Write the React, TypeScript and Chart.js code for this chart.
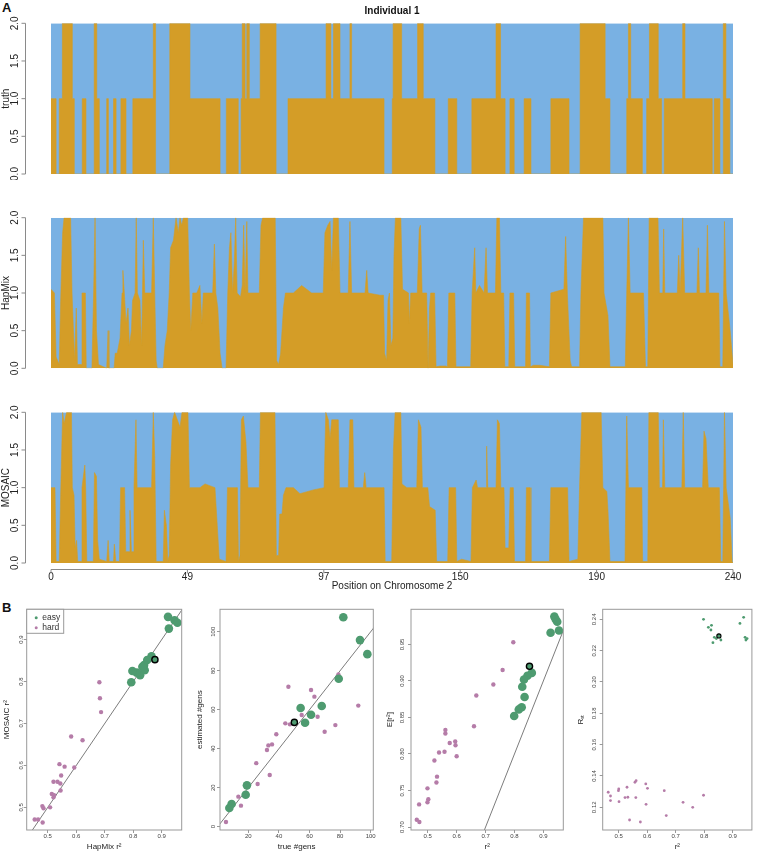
import React, { useEffect, useRef } from 'react';
import { Chart, registerables } from 'chart.js';

Chart.register(...registerables);
Chart.defaults.font.family = "'Liberation Sans', Arial, Helvetica, sans-serif";
Chart.defaults.color = '#222';

const BLUE = '#79B1E3';
const ORANGE = '#D49D27';
const GREEN = '#4E9B70';
const PURPLE = '#B57CA8';
const AXIS = '#8a8a8a';
const TEXT = '#222';

// ---------------- Panel A data ----------------
const positionTicks = [0, 48, 96, 144, 192, 240];
const positionTickLabels = ['0', '49', '97', '150', '190', '240'];
const ancestryTicks = [0, 0.5, 1, 1.5, 2];

const truthPos = [0,1.8,2.9,4.0,7.5,8.2,11.0,12.3,15.2,16.1,17.0,19.6,20.2,22.0,22.9,24.6,26.4,28.8,36.0,36.8,41.8,48.9,59.5,61.7,65.9,66.9,67.3,68.3,68.9,69.8,73.6,79.2,83.4,96.8,98.5,99.4,101.7,105.2,105.8,117.2,120.1,120.4,123.4,129.0,131.0,135.1,139.8,142.8,148.1,156.6,158.2,159.8,161.5,163.0,166.5,168.9,175.9,182.3,186.2,195.0,196.7,202.6,203.2,204.0,208.1,209.6,210.6,213.7,214.9,215.8,222.3,223.1,232.7,233.4,235.4,236.6,237.5,238.9,240];
const truthVal = [1,0,1,2,1,0,1,0,2,1,0,1,0,1,0,1,0,1,2,0,2,1,0,1,0,1,2,1,2,1,2,0,1,2,1,2,1,2,1,0,1,2,1,2,1,0,1,0,1,2,1,0,1,0,1,0,1,0,2,1,0,1,2,1,0,1,2,1,0,1,2,1,0,1,0,2,1,0,0];

const hapmixPos = [0,1.2,1.8,2.9,3.4,4.1,4.6,6.9,7.4,7.9,8.3,8.9,9.3,10.7,10.9,12.1,12.4,14.4,15.0,15.5,16.0,16.7,19.6,20.1,20.4,22.2,22.6,23.3,24.3,25.0,25.3,25.8,26.4,27.1,27.6,28.3,28.7,29.6,30.0,30.4,31.3,31.9,32.5,33.0,35.4,36.0,36.5,37.0,37.4,39.5,40.1,40.9,41.6,42.1,43.1,44.0,44.8,45.4,46.0,46.6,48.1,48.7,49.2,49.9,51.3,52.4,53.1,53.6,56.9,57.5,58.0,58.7,59.5,60.2,61.6,62.2,62.8,63.3,63.9,64.5,65.0,65.5,66.7,67.3,67.8,68.3,68.9,69.3,73.3,73.9,74.5,78.9,79.4,80.1,80.8,81.8,82.5,85.3,88.2,91.7,95.8,96.4,97.4,98.2,98.8,99.4,101.1,101.7,104.6,105.2,105.8,110.5,111.1,111.6,115.8,
  117.0,117.4,118.1,118.6,119.1,119.6,120.3,120.7,121.2,123.1,123.7,125.8,126.1,126.6,128.9,129.6,130.0,130.6,132.2,132.7,133.2,133.6,135.0,135.5,136.9,138.8,139.5,140.0,142.1,142.5,147.7,148.2,149.1,149.5,150.8,152.4,153.1,153.6,156.4,156.9,157.8,158.3,159.3,159.7,161.1,161.5,162.8,163.2,167.0,167.3,168.4,168.7,169.8,171.9,175.4,175.9,180.5,181.1,181.7,182.7,183.2,186.0,186.5,187.4,194.2,194.6,196.0,196.7,202.1,202.6,203.2,203.8,208.5,209.2,210.0,210.5,213.6,214.1,215.3,215.6,216.0,220.4,220.9,221.4,222.3,223.0,227.3,227.8,228.2,230.5,231.0,231.5,235.0,235.4,236.4,237.0,237.6,239.0,240];
const hapmixVal = [1.05,1.0,0.15,0.05,0.9,1.8,2.0,2.0,1.0,0.5,0.1,0.8,0.05,0.05,1.0,1.0,0.0,0.0,1.0,2.0,0.5,0.05,0.0,0.5,0.0,0.0,0.2,0.2,0.4,1.0,1.3,1.0,0.6,0.8,0.3,0.5,0.9,1.0,2.0,1.0,0.9,0.3,1.7,1.0,1.0,2.0,1.0,0.1,0.0,0.0,0.3,0.5,1.0,1.6,1.7,2.0,1.8,2.0,1.9,2.0,2.0,1.0,0.5,1.0,1.0,1.1,0.6,1.0,1.0,1.65,1.0,0.8,0.2,0.0,0.0,1.0,1.6,1.8,1.0,1.4,2.0,1.0,0.95,1.1,1.9,1.0,1.95,1.0,1.0,1.9,2.0,2.0,0.1,0.05,0.2,0.8,1.0,1.0,1.1,1.0,1.0,1.8,1.9,1.95,1.3,2.0,2.0,1.0,1.0,1.95,1.0,1.0,1.3,1.0,0.97,
  0.97,0.2,0.1,0.9,1.0,0.3,0.4,1.5,2.0,2.0,1.05,1.0,0.6,1.0,1.0,1.85,1.9,1.0,1.0,0.0,0.8,1.0,1.0,0.02,0.03,0.03,0.02,1.0,1.0,0.02,0.02,1.0,1.6,1.0,1.1,1.0,1.6,1.0,1.0,2.0,2.0,1.0,1.0,0.02,0.02,1.0,1.0,0.02,0.02,1.0,1.0,0.02,0.04,0.04,0.02,1.0,1.05,1.75,1.0,0.1,0.02,0.02,1.0,2.0,2.0,1.0,0.7,0.02,0.02,1.0,2.0,1.0,1.0,0.02,0.02,2.0,2.0,1.0,1.0,1.85,1.0,1.0,1.5,1.0,2.0,1.0,1.0,1.6,1.0,1.0,1.9,1.0,1.0,0.02,0.02,1.95,1.0,0.5,0.05];

const mosaicPos = [0,1.4,1.8,2.9,3.4,4.1,4.6,5.5,7.2,7.5,8.1,8.5,9.0,9.4,10.7,10.9,11.9,12.2,12.6,14.9,15.3,16.0,16.4,17.0,19.6,20.1,20.5,22.0,22.3,22.8,24.1,24.5,25.9,26.3,27.5,27.8,28.3,28.9,29.2,29.9,30.3,35.4,36.0,36.5,37.0,39.5,39.9,40.6,41.1,41.6,42.1,42.8,43.5,45.4,46.1,48.2,48.7,52.4,54.2,57.7,58.5,59.2,61.6,62.1,65.6,66.0,66.5,67.0,67.7,68.6,69.3,73.3,73.7,78.8,79.3,80.1,80.5,81.3,81.8,82.7,85.3,87.6,92.3,96.1,96.7,97.6,98.2,98.8,101.1,101.5,104.6,105.2,106.2,106.6,109.9,110.4,110.9,115.8,
  116.4,117.2,117.6,119.9,120.5,121.1,123.1,123.5,125.2,128.7,129.3,130.2,130.7,132.6,133.2,135.2,135.7,139.6,140.1,142.4,142.8,144.5,147.8,148.3,149.6,150.1,153.1,153.3,153.7,156.6,157.1,157.8,158.3,159.4,159.8,161.1,161.6,162.7,163.1,167.0,167.3,168.6,168.9,175.4,175.9,181.8,182.3,185.4,186.0,186.8,193.6,194.2,195.6,196.0,196.7,202.0,202.6,203.2,207.9,208.2,210.0,210.4,213.7,214.1,215.2,215.5,216.0,222.0,222.5,223.0,229.3,229.8,230.5,231.3,235.2,235.7,236.4,237.0,237.6,239.0,239.7,240];
const mosaicVal = [1.0,1.0,0.02,0.02,0.9,2.0,1.85,2.0,2.0,1.0,0.9,0.2,0.3,0.02,0.02,1.0,1.3,1.0,0.02,0.02,1.2,1.15,0.3,0.05,0.02,0.3,0.02,0.02,0.25,0.02,0.02,1.0,1.0,0.15,0.15,0.7,0.15,0.15,1.0,1.9,1.0,1.0,2.0,1.4,0.02,0.02,0.7,0.5,0.02,0.1,1.3,1.9,2.0,1.8,2.0,2.0,1.0,1.0,1.05,1.0,0.5,0.05,0.02,1.0,1.0,0.02,0.1,1.9,1.95,1.6,1.0,1.0,2.0,2.0,0.1,0.1,0.65,0.65,0.9,1.0,1.0,0.92,0.97,1.0,2.0,1.9,1.65,1.9,1.9,1.0,1.0,1.9,1.9,1.0,1.0,1.2,1.0,1.0,
  1.0,1.0,0.02,0.02,1.5,2.0,2.0,1.05,1.0,1.0,1.9,1.8,1.0,1.0,0.75,0.7,0.02,0.02,1.0,1.0,0.02,0.05,0.02,1.0,1.1,1.0,1.0,1.55,1.0,1.0,1.9,1.85,1.0,1.0,0.2,0.2,1.0,1.0,0.02,0.02,1.0,1.0,0.02,0.02,1.0,1.0,0.02,0.05,1.0,2.0,2.0,1.0,0.95,0.7,0.02,0.02,1.95,1.0,1.0,0.02,0.02,2.0,2.0,1.0,1.0,1.9,1.0,1.0,2.0,1.0,1.0,1.75,1.65,1.0,1.0,0.02,0.02,2.0,1.0,0.6,0.02,0.0];

// ---------------- Panel B data ----------------
// B1: HapMix r2 (x) vs MOSAIC r2 (y)
const b1EasyX = [0.922,0.945,0.955,0.925,0.864,0.849,0.838,0.840,0.832,0.824,0.812,0.797,0.793];
const b1EasyY = [0.954,0.946,0.940,0.926,0.860,0.851,0.839,0.827,0.835,0.815,0.821,0.825,0.798];
const b1HardX = [0.681,0.683,0.687,0.582,0.622,0.541,0.559,0.593,0.547,0.520,0.534,0.544,0.514,0.522,0.520,0.545,0.481,0.485,0.508,0.454,0.466,0.482];
const b1HardY = [0.798,0.760,0.727,0.669,0.660,0.603,0.597,0.595,0.576,0.561,0.561,0.557,0.532,0.529,0.524,0.540,0.503,0.498,0.500,0.471,0.471,0.464];
const b1Ind = [0.876, 0.852];

// B2: true #gens (x) vs estimated #gens (y)
const b2EasyX = [82.1,93.0,97.8,79.1,68.0,54.2,61.0,57.1,19.1,18.3,9.1,7.6];
const b2EasyY = [107.4,95.7,88.5,75.9,61.9,60.9,57.4,53.3,21.2,16.4,11.6,9.6];
const b2HardX = [5.4,9.5,13.5,15.2,25.2,26.1,32.2,33.1,35.5,34.0,38.3,44.2,46.2,47.2,54.9,61.0,63.2,65.3,69.9,76.9,78.9,91.9];
const b2HardY = [2.4,11.8,15.4,10.8,32.6,21.9,39.3,41.7,42.2,26.5,47.4,53.0,71.8,52.5,57.3,70.1,66.7,56.4,48.7,52.1,78.1,62.1];
const b2Ind = [50.1, 53.5];

// B3: r2 (x) vs E[r2] (y)
const b3EasyX = [0.938,0.943,0.948,0.954,0.925,0.860,0.845,0.833,0.827,0.835,0.825,0.815,0.799];
const b3EasyY = [0.988,0.984,0.981,0.969,0.966,0.911,0.907,0.902,0.892,0.878,0.864,0.861,0.852];
const b3HardX = [0.796,0.759,0.727,0.668,0.660,0.561,0.561,0.595,0.576,0.596,0.558,0.539,0.600,0.523,0.532,0.530,0.499,0.502,0.499,0.470,0.462,0.471];
const b3HardY = [0.953,0.915,0.895,0.880,0.838,0.833,0.828,0.817,0.815,0.812,0.803,0.802,0.797,0.791,0.769,0.761,0.753,0.738,0.734,0.731,0.710,0.707];
const b3Ind = [0.852, 0.920];

// B4: r2 (x) vs R_st (y)
const b4EasyX = [0.798,0.939,0.926,0.815,0.826,0.824,0.836,0.843,0.859,0.831,0.944,0.951,0.947];
const b4EasyY = [0.2400,0.2413,0.2374,0.2349,0.2362,0.2332,0.2285,0.2277,0.2268,0.2251,0.2285,0.2277,0.2268];
const b4HardX = [0.463,0.471,0.471,0.500,0.499,0.501,0.522,0.532,0.529,0.538,0.557,0.561,0.560,0.576,0.595,0.601,0.596,0.660,0.667,0.726,0.760,0.798];
const b4HardY = [0.1296,0.1272,0.1243,0.1317,0.1306,0.1236,0.1262,0.1264,0.1328,0.1119,0.1360,0.1370,0.1262,0.1106,0.1349,0.1321,0.1219,0.1306,0.1147,0.1232,0.1200,0.1277];
const b4Ind = [0.852, 0.2294];

const r2Ticks = [0.5, 0.6, 0.7, 0.8, 0.9];
const gensTicksX = [20, 40, 60, 80, 100];
const gensTicksY = [0, 20, 40, 60, 80, 100];
const er2Ticks = [0.70, 0.75, 0.80, 0.85, 0.90, 0.95];
const rstTicks = [0.12, 0.14, 0.16, 0.18, 0.20, 0.22, 0.24];
const identityR2 = [0.3, 1.1];
const identityGens = [-10, 120];
const legendLabels = ['easy', 'hard'];

// ---------------- helpers ----------------
const pts = (xs: number[], ys: number[]) => xs.map((x, i) => ({ x, y: ys[i] }));
const HIDDEN = 'rgba(0,0,0,0)';

function rAxisPlugin(showX: boolean) {
  return {
    id: 'rAxis',
    afterDraw(chart: any) {
      const { ctx, chartArea } = chart;
      const xs = chart.scales.x;
      const ys = chart.scales.y;
      ctx.save();
      ctx.strokeStyle = AXIS;
      ctx.lineWidth = 1;
      ctx.beginPath();
      const ax = Math.round(chartArea.left - 26) + 0.5;
      ctx.moveTo(ax, ys.getPixelForValue(ancestryTicks[0]));
      ctx.lineTo(ax, ys.getPixelForValue(ancestryTicks[ancestryTicks.length - 1]));
      ancestryTicks.forEach((t) => {
        const p = ys.getPixelForValue(t);
        ctx.moveTo(ax, p);
        ctx.lineTo(ax - 4, p);
      });
      if (showX) {
        const ay = Math.round(chartArea.bottom + 6) + 0.5;
        ctx.moveTo(xs.getPixelForValue(positionTicks[0]), ay);
        ctx.lineTo(xs.getPixelForValue(positionTicks[positionTicks.length - 1]), ay);
        positionTicks.forEach((t) => {
          const p = xs.getPixelForValue(t);
          ctx.moveTo(p, ay);
          ctx.lineTo(p, ay + 4);
        });
      }
      ctx.stroke();
      ctx.restore();
    },
  };
}

function ancestryConfig(o: {
  label: string; pos: number[]; val: number[]; stepped: boolean; title?: string;
  showX: boolean; padTop: number; padBottom: number;
}) {
  const xScale: any = {
    type: 'linear', min: 0, max: 240, display: o.showX,
    afterBuildTicks: (s: any) => { s.ticks = positionTicks.map((v) => ({ value: v })); },
    grid: { display: true, drawOnChartArea: false, drawTicks: true, tickLength: 8, color: HIDDEN },
    border: { display: false },
    ticks: { padding: 0, font: { size: 10 }, color: TEXT, maxRotation: 0, autoSkip: false,
      callback: (_v: any, i: number) => positionTickLabels[i] },
    title: { display: true, text: 'Position on Chromosome 2', font: { size: 10 }, color: TEXT, padding: { top: 0, bottom: 3 } },
  };
  if (o.showX) xScale.afterFit = (s: any) => { s.height = 32; };
  return {
    type: 'line',
    data: {
      datasets: [
        { data: pts(o.pos, o.val), borderWidth: 0.6, borderColor: ORANGE, backgroundColor: ORANGE,
          fill: 'origin', pointRadius: 0, stepped: o.stepped ? 'before' : false, tension: 0, order: 1 },
        { data: [{ x: 0, y: 2 }, { x: 240, y: 2 }], borderWidth: 0, borderColor: HIDDEN,
          backgroundColor: BLUE, fill: 'origin', pointRadius: 0, order: 2 },
      ],
    },
    options: {
      responsive: false, animation: false, events: [],
      layout: { padding: { left: 0, right: 24, top: o.padTop, bottom: o.padBottom } },
      plugins: {
        legend: { display: false }, tooltip: { enabled: false },
        title: o.title
          ? { display: true, text: o.title, fullSize: false, font: { size: 10, weight: 'bold' }, color: '#111', padding: { top: 4, bottom: 6 } }
          : { display: false },
      },
      scales: {
        x: xScale,
        y: {
          type: 'linear', min: 0, max: 2,
          afterBuildTicks: (s: any) => { s.ticks = ancestryTicks.map((v) => ({ value: v })); },
          afterFit: (s: any) => { s.width = 51; },
          grid: { display: true, drawOnChartArea: false, drawTicks: true, tickLength: 29, color: HIDDEN },
          border: { display: false },
          ticks: { padding: 0, minRotation: 90, maxRotation: 90, crossAlign: 'center', font: { size: 10 }, color: TEXT,
            autoSkip: false, callback: (v: any) => Number(v).toFixed(1) },
          title: { display: true, text: o.label, font: { size: 10 }, color: TEXT, padding: { top: 0, bottom: 0 } },
        },
      },
    },
    plugins: [rAxisPlugin(o.showX)],
  };
}

const boxPlugin = {
  id: 'rBox',
  afterDatasetsDraw(chart: any) {
    const { ctx, chartArea: a } = chart;
    ctx.save();
    ctx.strokeStyle = '#999';
    ctx.lineWidth = 1;
    ctx.strokeRect(a.left, a.top, a.right - a.left, a.bottom - a.top);
    ctx.restore();
  },
};

const legendPlugin = {
  id: 'rLegend',
  afterDraw(chart: any) {
    const { ctx, chartArea: a } = chart;
    const w = 37, h = 24;
    ctx.save();
    ctx.fillStyle = '#fff';
    ctx.fillRect(a.left, a.top, w, h);
    ctx.strokeStyle = '#999';
    ctx.lineWidth = 1;
    ctx.strokeRect(a.left, a.top, w, h);
    const items = chart.data.datasets.filter((d: any) => legendLabels.includes(d.label));
    items.forEach((d: any, i: number) => {
      const cy = a.top + 8.5 + i * 10;
      ctx.fillStyle = d.backgroundColor;
      ctx.beginPath();
      ctx.arc(a.left + 9.5, cy, 1.5, 0, Math.PI * 2);
      ctx.fill();
      ctx.fillStyle = '#333';
      ctx.font = "8.5px 'Liberation Sans', Arial, sans-serif";
      ctx.textBaseline = 'middle';
      ctx.textAlign = 'left';
      ctx.fillText(d.label, a.left + 15.5, cy);
    });
    ctx.restore();
  },
};

function scatterConfig(s: {
  easyX: number[]; easyY: number[]; hardX: number[]; hardY: number[]; ind: number[];
  xMin: number; xMax: number; yMin: number; yMax: number;
  xTicks: number[]; yTicks: number[]; xDigits: number; yDigits: number;
  xTitle: string; yTitle: string;
  yAxisWidth: number; rightPad: number; yTitlePad: number; yTickPad: number;
  easyR: number; hardR: number; indR: number; indBorder: number;
  diagonal: number[] | null; legend: boolean;
}) {
  const datasets: any[] = [
    { label: 'highlight', data: [{ x: s.ind[0], y: s.ind[1] }], backgroundColor: GREEN, borderColor: '#000',
      borderWidth: s.indBorder, pointRadius: s.indR, order: 0 },
    { label: 'easy', data: pts(s.easyX, s.easyY), backgroundColor: GREEN, borderWidth: 0, pointRadius: s.easyR, order: 1 },
    { label: 'hard', data: pts(s.hardX, s.hardY), backgroundColor: PURPLE, borderWidth: 0, pointRadius: s.hardR, order: 2 },
  ];
  if (s.diagonal) {
    datasets.push({ type: 'line', label: 'x=y', data: pts(s.diagonal, s.diagonal),
      borderColor: '#444', borderWidth: 0.7, pointRadius: 0, fill: false, order: 3 });
  }
  const fmt = (d: number) => (v: any) => (d === 0 ? String(Math.round(Number(v))) : Number(v).toFixed(d));
  const plugins: any[] = [boxPlugin];
  if (s.legend) plugins.push(legendPlugin);
  return {
    type: 'scatter',
    data: { datasets },
    options: {
      responsive: false, animation: false, events: [],
      layout: { padding: { left: 0, right: s.rightPad, top: 14.3, bottom: 0 } },
      plugins: { legend: { display: false }, tooltip: { enabled: false }, title: { display: false } },
      scales: {
        x: {
          type: 'linear', position: 'bottom', min: s.xMin, max: s.xMax,
          afterBuildTicks: (sc: any) => { sc.ticks = s.xTicks.map((v) => ({ value: v })); },
          afterFit: (sc: any) => { sc.height = 24; },
          grid: { drawOnChartArea: false, drawTicks: true, tickLength: 3, color: '#999', lineWidth: 1 },
          border: { display: false },
          ticks: { padding: 0, font: { size: 6 }, color: '#444', maxRotation: 0, autoSkip: false, callback: fmt(s.xDigits) },
          title: { display: true, text: s.xTitle, font: { size: 8 }, color: TEXT, padding: { top: 0, bottom: 2.5 } },
        },
        y: {
          type: 'linear', position: 'left', min: s.yMin, max: s.yMax,
          afterBuildTicks: (sc: any) => { sc.ticks = s.yTicks.map((v) => ({ value: v })); },
          afterFit: (sc: any) => { sc.width = s.yAxisWidth; },
          grid: { drawOnChartArea: false, drawTicks: true, tickLength: 3, color: '#999', lineWidth: 1 },
          border: { display: false },
          ticks: { padding: s.yTickPad, font: { size: 6 }, color: '#444', minRotation: 90, maxRotation: 90,
            crossAlign: 'center', autoSkip: false, callback: fmt(s.yDigits) },
          title: { display: true, text: s.yTitle, font: { size: 8 }, color: TEXT, padding: { top: s.yTitlePad, bottom: 0 } },
        },
      },
    },
    plugins,
  };
}

function ChartCanvas({ left, top, width, height, make }: { left: number; top: number; width: number; height: number; make: () => any }) {
  const ref = useRef<HTMLCanvasElement>(null);
  useEffect(() => {
    const chart = new Chart(ref.current as HTMLCanvasElement, make());
    return () => chart.destroy();
  }, []);
  return (
    <canvas ref={ref} width={width} height={height}
      style={{ position: 'absolute', left, top, width, height }} />
  );
}

const letterStyle: React.CSSProperties = {
  position: 'absolute', fontFamily: "'Liberation Sans', Arial, sans-serif", fontWeight: 'bold',
  fontSize: 13, lineHeight: '13px', color: '#111',
};

export default function App() {
  return (
    <div style={{ position: 'absolute', left: 0, top: 0, width: 757, height: 854, background: '#fff', overflow: 'hidden' }}>
      <div style={{ ...letterStyle, left: 2, top: 1 }}>A</div>
      <div style={{ ...letterStyle, left: 2, top: 601 }}>B</div>

      <ChartCanvas left={0} top={0} width={757} height={180}
        make={() => ancestryConfig({ label: 'truth', pos: truthPos, val: truthVal, stepped: true, title: 'Individual 1', showX: false, padTop: 1.3, padBottom: 6 })} />
      <ChartCanvas left={0} top={200} width={757} height={175}
        make={() => ancestryConfig({ label: 'HapMix', pos: hapmixPos, val: hapmixVal, stepped: false, showX: false, padTop: 17.7, padBottom: 6.7 })} />
      <ChartCanvas left={0} top={395} width={757} height={200}
        make={() => ancestryConfig({ label: 'MOSAIC', pos: mosaicPos, val: mosaicVal, stepped: false, showX: true, padTop: 17.3, padBottom: 0 })} />

      <ChartCanvas left={0} top={595} width={190} height={259}
        make={() => scatterConfig({ easyX: b1EasyX, easyY: b1EasyY, hardX: b1HardX, hardY: b1HardY, ind: b1Ind,
          xMin: 0.426, xMax: 0.970, yMin: 0.446, yMax: 0.972, xTicks: r2Ticks, yTicks: r2Ticks, xDigits: 1, yDigits: 1,
          xTitle: 'HapMix r²', yTitle: 'MOSAIC r²', yAxisWidth: 26.7, rightPad: 8.3, yTitlePad: 2, yTickPad: -1.5,
          easyR: 4.3, hardR: 2.2, indR: 3.1, indBorder: 1.4, diagonal: identityR2, legend: true })} />
      <ChartCanvas left={192} top={595} width={190} height={259}
        make={() => scatterConfig({ easyX: b2EasyX, easyY: b2EasyY, hardX: b2HardX, hardY: b2HardY, ind: b2Ind,
          xMin: 1.5, xMax: 101.7, yMin: -1.7, yMax: 111.5, xTicks: gensTicksX, yTicks: gensTicksY, xDigits: 0, yDigits: 0,
          xTitle: 'true #gens', yTitle: 'estimated #gens', yAxisWidth: 28, rightPad: 8.7, yTitlePad: 3.2, yTickPad: -1,
          easyR: 4.3, hardR: 2.2, indR: 3.1, indBorder: 1.4, diagonal: identityGens, legend: false })} />
      <ChartCanvas left={382} top={595} width={190} height={259}
        make={() => scatterConfig({ easyX: b3EasyX, easyY: b3EasyY, hardX: b3HardX, hardY: b3HardY, ind: b3Ind,
          xMin: 0.442, xMax: 0.969, yMin: 0.696, yMax: 0.998, xTicks: r2Ticks, yTicks: er2Ticks, xDigits: 1, yDigits: 2,
          xTitle: 'r²', yTitle: 'E[r²]', yAxisWidth: 29, rightPad: 8.7, yTitlePad: 3.2, yTickPad: -0.5,
          easyR: 4.3, hardR: 2.2, indR: 3.1, indBorder: 1.4, diagonal: identityR2, legend: false })} />
      <ChartCanvas left={573} top={595} width={184} height={259}
        make={() => scatterConfig({ easyX: b4EasyX, easyY: b4EasyY, hardX: b4HardX, hardY: b4HardY, ind: b4Ind,
          xMin: 0.4436, xMax: 0.968, yMin: 0.1055, yMax: 0.2464, xTicks: r2Ticks, yTicks: rstTicks, xDigits: 1, yDigits: 2,
          xTitle: 'r²', yTitle: 'Rₛₜ', yAxisWidth: 29.7, rightPad: 2.7, yTitlePad: 2.9, yTickPad: -0.9,
          easyR: 1.4, hardR: 1.4, indR: 2.1, indBorder: 1.1, diagonal: null, legend: false })} />
    </div>
  );
}
